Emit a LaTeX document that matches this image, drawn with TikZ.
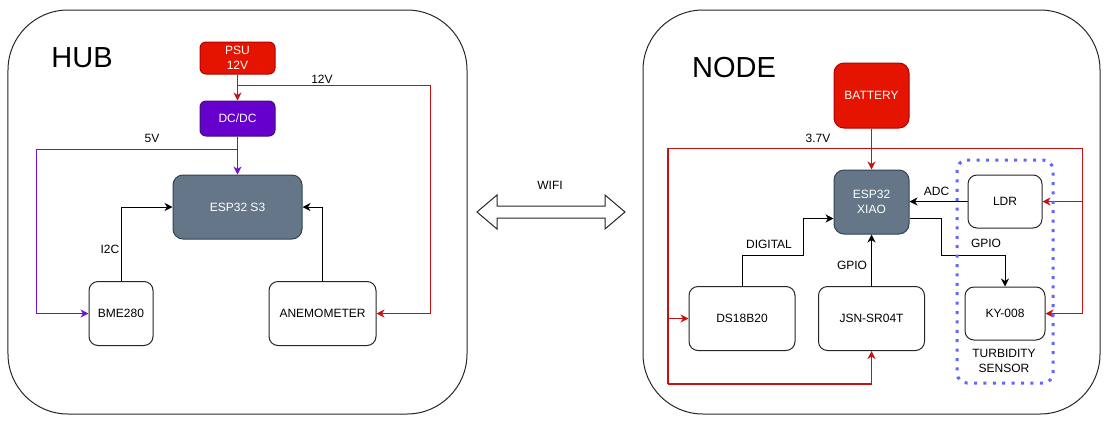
\documentclass[tikz,border=0pt]{standalone}
\usepackage{fontspec}
\setmainfont{Liberation Sans}
\usetikzlibrary{arrows.meta,calc}
\definecolor{fRed}{HTML}{E51400}
\definecolor{sRed}{HTML}{B20000}
\definecolor{lRed}{HTML}{C81010}
\definecolor{fPur}{HTML}{6600CC}
\definecolor{sPur}{HTML}{3D1470}
\definecolor{lPur}{HTML}{7010DD}
\definecolor{fSlate}{HTML}{647687}
\definecolor{sSlate}{HTML}{314354}
\definecolor{dBlue}{HTML}{6464FF}
\tikzset{
  txt/.style={font=\fontsize{12bp}{15bp}\selectfont, align=center, inner sep=0pt},
  panel/.style={draw=black!85, line width=1bp, rounded corners=60bp, inner sep=0pt},
  wbox/.style={txt, draw=black!85, line width=1bp, rounded corners=9bp, fill=white},
  redbox/.style={txt, draw=sRed, line width=1bp, rounded corners=6bp, fill=fRed, text=white},
  purbox/.style={txt, draw=sPur, line width=1bp, rounded corners=6bp, fill=fPur, text=white},
  mcu/.style={txt, draw=sSlate, line width=1bp, rounded corners=10bp, fill=fSlate, text=white},
  tip/.style={-{Stealth[length=8bp,width=8bp,inset=2.5bp]}},
  sig/.style={draw=black, line width=1bp, tip},
  pw/.style={draw=lRed, line width=1.2bp, tip},
  pwl/.style={draw=lRed, line width=1.2bp},
  pu/.style={draw=lPur, line width=1bp, tip},
  lbl/.style={txt},
  title/.style={font=\fontsize{29bp}{32bp}\selectfont, inner sep=0pt}
}
\begin{document}
\begin{tikzpicture}[x=1bp,y=-1bp]
\useasboundingbox (0,0) rectangle (1113,427);
% panels
\node[panel, minimum width=459bp, minimum height=404bp] (hub) at (237.5,212) {};
\node[panel, minimum width=457bp, minimum height=404bp] (nodep) at (871.5,212) {};
\node[title] (hubt) at (82,58) {HUB};
\node[title] (nodet) at (734,68) {NODE};

% ---------- HUB ----------
\node[redbox, minimum width=75bp, minimum height=32bp] (psu) at (237.5,58) {PSU\\12V};
\node[purbox, minimum width=75bp, minimum height=35bp] (dcdc) at (237.5,118.5) {DC/DC};
\node[mcu, minimum width=129bp, minimum height=64bp] (esp3) at (237.5,207) {ESP32 S3};
\node[wbox, minimum width=64bp, minimum height=64bp] (bme) at (121,313.5) {BME280};
\node[wbox, minimum width=107bp, minimum height=64bp] (anem) at (322.5,313.5) {ANEMOMETER};

\coordinate (j12) at (237.5,85.5);
\coordinate (r12) at (430.5,85.5);
\coordinate (j5) at (237.5,149.5);
\coordinate (l5) at (36.5,149.5);

\draw[pw] (psu.south) -- (dcdc.north);
\draw[pw] (j12) -- (r12) |- (anem.east);
\draw[pu] (dcdc.south) -- (esp3.north);
\draw[pu] (j5) -- (l5) |- (bme.west);
\draw[sig] (bme.north) |- (esp3.west);
\draw[sig] (anem.north) |- (esp3.east);

\node[lbl] (l12) at (322,79) {12V};
\node[lbl] (l5v) at (152,138) {5V};
\node[lbl] (li2c) at (110,249) {I2C};

% ---------- WIFI ----------
\draw[draw=black!85, line width=1bp, fill=white, line join=miter]
  (477,212) -- (497,195) -- (497,206) -- (605,206) -- (605,195) -- (625,212)
  -- (605,229) -- (605,218) -- (497,218) -- (497,229) -- cycle;
\node[lbl] (wifi) at (550,185) {WIFI};

% ---------- NODE ----------
\coordinate (ptl) at (668,148.5);
\coordinate (ptr) at (1082.5,148.5);
\coordinate (pbl) at (668,384);
\draw[pwl] (ptr) -- (ptl) -- (pbl);

\node[redbox, rounded corners=10bp, minimum width=75bp, minimum height=65bp] (bat) at (871.5,95.5) {BATTERY};
\node[mcu, minimum width=75bp, minimum height=64bp] (xiao) at (871.5,202) {ESP32\\XIAO};
\node[wbox, minimum width=74bp, minimum height=53bp] (ldr) at (1005,201.5) {LDR};
\node[wbox, minimum width=80bp, minimum height=53bp] (ky) at (1005,313.5) {KY-008};
\node[wbox, minimum width=106bp, minimum height=64bp] (ds) at (742,318.5) {DS18B20};
\node[wbox, minimum width=106bp, minimum height=64bp] (jsn) at (871.5,318.5) {JSN-SR04T};

\draw[pw] (bat.south) -- (xiao.north);
\draw[pw] (ptr) |- (ky.east);
\draw[pw] (ptr |- ldr.east) -- (ldr.east);
\draw[pw] (ptl) |- (ds.west);
\draw[pw] (pbl) -| (jsn.south);

\draw[sig] (ldr.west) -- (xiao.east |- ldr.west);
\coordinate (k1) at (941.5,255.5);
\coordinate (d1) at (803.5,255.5);
\draw[sig] ($(xiao.east)+(0,16.5)$) -| (k1) -| (ky.north);
\draw[sig] (ds.north) |- (d1) |- ($(xiao.west)+(0,16.5)$);
\draw[sig] (jsn.north) -- (xiao.south);

\draw[draw=dBlue, line width=3bp, dash pattern=on 3bp off 6.4bp, rounded corners=10bp]
  (957,160) rectangle (1053,383);
\node[lbl] (turb) at (1004,360.5) {TURBIDITY\\SENSOR};

\node[lbl] (l37) at (818,138) {3.7V};
\node[lbl] (ladc) at (936.5,191) {ADC};
\node[lbl] (lgp1) at (986,243) {GPIO};
\node[lbl] (ldig) at (769,244) {DIGITAL};
\node[lbl] (lgp2) at (852,265) {GPIO};
\end{tikzpicture}
\end{document}
